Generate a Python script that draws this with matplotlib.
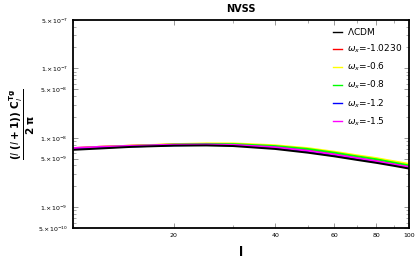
import numpy as np
import matplotlib
matplotlib.use("Agg")
import matplotlib.pyplot as plt
from matplotlib.ticker import FixedLocator, FixedFormatter, LogLocator, NullFormatter

# multipole l
ell = [10, 12, 15, 20, 25, 30, 40, 50, 60, 70, 80, 90, 100]

# l(l+1) C_l^Tg / 2pi, in units of 1e-8
lcdm  = [0.67, 0.70, 0.74, 0.77, 0.775, 0.76, 0.69, 0.61, 0.54, 0.48, 0.435, 0.395, 0.36]
w1023 = [0.71, 0.74, 0.77, 0.80, 0.81, 0.80, 0.74, 0.66, 0.58, 0.51, 0.46, 0.415, 0.38]
w06   = [0.70, 0.74, 0.77, 0.81, 0.83, 0.83, 0.78, 0.71, 0.63, 0.56, 0.51, 0.46, 0.42]
w08   = [0.70, 0.73, 0.76, 0.80, 0.815, 0.81, 0.76, 0.69, 0.61, 0.54, 0.49, 0.44, 0.40]
w12   = [0.69, 0.72, 0.75, 0.78, 0.79, 0.78, 0.72, 0.64, 0.565, 0.50, 0.45, 0.41, 0.37]
w15   = [0.71, 0.74, 0.765, 0.795, 0.80, 0.79, 0.73, 0.65, 0.575, 0.51, 0.46, 0.415, 0.38]

series = [
    (r"$\Lambda$CDM", lcdm, "black"),
    (r"$\omega_x$=-1.0230", w1023, "red"),
    (r"$\omega_x$=-0.6", w06, "yellow"),
    (r"$\omega_x$=-0.8", w08, "lime"),
    (r"$\omega_x$=-1.2", w12, "blue"),
    (r"$\omega_x$=-1.5", w15, "magenta"),
]

ytick_vals = [5e-10, 1e-9, 5e-9, 1e-8, 5e-8, 1e-7, 5e-7]
ytick_labels = [r"5.$\times$10$^{-10}$", r"1.$\times$10$^{-9}$", r"5.$\times$10$^{-9}$",
                r"1.$\times$10$^{-8}$", r"5.$\times$10$^{-8}$", r"1.$\times$10$^{-7}$",
                r"5.$\times$10$^{-7}$"]
xtick_vals = [20, 40, 60, 80, 100]

fig = plt.figure(figsize=(4.15, 2.58), dpi=100)
ax = fig.add_axes([0.175, 0.116, 0.8105, 0.807])

handles = {}
for label, vals, col in series[1:] + series[:1]:
    h, = ax.plot(ell, np.array(vals) * 1e-8, color=col, lw=1.4)
    handles[label] = h

ax.set_xscale("log")
ax.set_yscale("log")
ax.set_xlim(10, 100)
ax.set_ylim(5e-10, 5e-7)

ax.yaxis.set_major_locator(FixedLocator(ytick_vals))
ax.yaxis.set_major_formatter(FixedFormatter(ytick_labels))
ax.yaxis.set_minor_locator(LogLocator(base=10, subs=np.arange(2, 10)))
ax.yaxis.set_minor_formatter(NullFormatter())
ax.xaxis.set_major_locator(FixedLocator(xtick_vals))
ax.xaxis.set_major_formatter(FixedFormatter([str(v) for v in xtick_vals]))
ax.xaxis.set_minor_locator(LogLocator(base=10, subs=np.arange(1, 10)))
ax.xaxis.set_minor_formatter(NullFormatter())

ax.tick_params(which="both", direction="in", top=True, right=True, labelsize=4.5,
               color="#888888")
ax.tick_params(which="major", length=3.5, width=0.6)
ax.tick_params(which="minor", length=2, width=0.5)
for s in ax.spines.values():
    s.set_linewidth(1.3)

ax.set_title("NVSS", fontsize=7, fontweight="bold", pad=6)
ax.set_xlabel("l", fontsize=9, fontweight="bold", labelpad=6)

fig.text(0.055, 0.52, r"$\mathbf{\dfrac{(\mathit{l}\ (\mathit{l}+1))\ C_{\mathit{l}}^{Tg}}{2\ \pi}}$",
         rotation=90, fontsize=7.5, ha="center", va="center")

ax.legend([handles[s[0]] for s in series], [s[0] for s in series],
          loc="upper right", frameon=False, fontsize=6.5, handlelength=1.0,
          handletextpad=0.6, labelspacing=0.62, borderaxespad=0.3)
for line in ax.get_legend().get_lines():
    line.set_linewidth(1.0)

fig.savefig("out.png", dpi=100)
